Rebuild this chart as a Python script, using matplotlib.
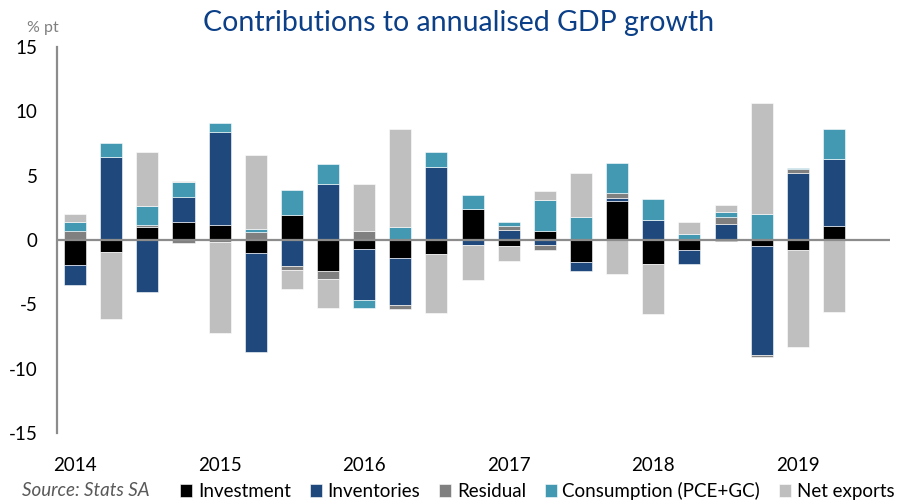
import matplotlib.pyplot as plt
import numpy as np

plt.rcParams['font.family'] = ['Lato', 'DejaVu Sans']
plt.rcParams['axes.unicode_minus'] = False

# 2014Q1 .. 2019Q2
quarters = [f"{y}Q{q}" for y in range(2014, 2020) for q in range(1, 5)][:22]
year_labels = ["2014", "2015", "2016", "2017", "2018", "2019"]

investment = [-1.94, -0.96, 1.00, 1.42, 1.16, -1.03, 1.94, -2.43, -0.72, -1.42, -1.11,
              2.43, -0.47, 0.72, -1.68, 3.02, -1.89, -0.78, -0.10, -0.44, -0.80, 1.11]
inventories = [-1.58, 6.43, -4.08, 1.91, 7.21, -7.70, -2.04, 4.34, -3.95, -3.64, 5.66,
               -0.39, 0.78, -0.41, -0.72, 0.26, 1.55, -1.06, 1.21, -8.50, 5.17, 5.17]
residual = [0.70, 0.00, 0.20, -0.20, -0.15, 0.62, -0.31, -0.62, 0.67, -0.31, 0.00,
            0.00, 0.28, -0.36, 0.00, 0.36, 0.00, 0.00, 0.54, -0.13, 0.34, 0.00]
consumption = [0.72, 1.09, 1.47, 1.19, 0.70, 0.20, 1.91, 1.55, -0.59, 0.98, 1.21,
               1.03, 0.31, 2.38, 1.78, 2.35, 1.60, 0.49, 0.44, 2.04, 0.08, 2.38]
net_exports = [0.62, -5.19, 4.19, 0.05, -7.10, 5.76, -1.47, -2.27, 3.67, 7.65, -4.57,
               -2.74, -1.14, 0.67, 3.41, -2.61, -3.88, 0.88, 0.54, 8.58, -7.49, -5.61]

series = [
    ("Investment", investment, "#000000"),
    ("Inventories", inventories, "#1F497D"),
    ("Residual", residual, "#808080"),
    ("Consumption (PCE+GC)", consumption, "#4399B1"),
    ("Net exports", net_exports, "#BFBFBF"),
]

fig = plt.figure(figsize=(9.03, 5.04), dpi=100)
ax = fig.add_axes([57 / 903, 1 - 433 / 504, (890 - 57) / 903, (433 - 47) / 504])

x = np.arange(len(quarters))
pos_base = np.zeros(len(x))
neg_base = np.zeros(len(x))
for name, vals, col in series:
    v = np.array(vals)
    bottom = np.where(v >= 0, pos_base, neg_base)
    ax.bar(x, v, bottom=bottom, width=0.61, color=col, edgecolor='white',
           linewidth=0.4, label=name)
    pos_base += np.where(v >= 0, v, 0)
    neg_base += np.where(v < 0, v, 0)

ax.axhline(0, color='#8C8C8C', linewidth=1.6, zorder=3)

ax.set_xlim(-0.5, 22.55)
ax.set_ylim(-15, 15)
ax.set_yticks([-15, -10, -5, 0, 5, 10, 15])
ax.tick_params(axis='y', length=0, labelsize=13.5, pad=14)
ax.set_xticks(x[::4])
ax.set_xticklabels(year_labels, fontsize=13.5)
ax.tick_params(axis='x', length=0, pad=17)

for s in ['top', 'right', 'bottom']:
    ax.spines[s].set_visible(False)
ax.spines['left'].set_color('#8C8C8C')
ax.spines['left'].set_linewidth(1.6)

fig.text(0.508, 0.955, "Contributions to annualised GDP growth", ha='center',
         va='center', fontsize=20.5, color='#0B3F87')
fig.text(0.048, 0.945, "% pt", ha='center', va='center', fontsize=11.5, color='#808080')
fig.text(0.024, 0.026, "Source: Stats SA", ha='left', va='center', fontsize=13.5,
         style='italic', color='#595959')

fig.legend(loc='center right', bbox_to_anchor=(1.005, 0.026), ncol=5, frameon=False,
           fontsize=13.5, handlelength=0.65, handleheight=0.65, handletextpad=0.3,
           columnspacing=1.0, borderpad=0.2)

fig.savefig("out.png", dpi=100)
